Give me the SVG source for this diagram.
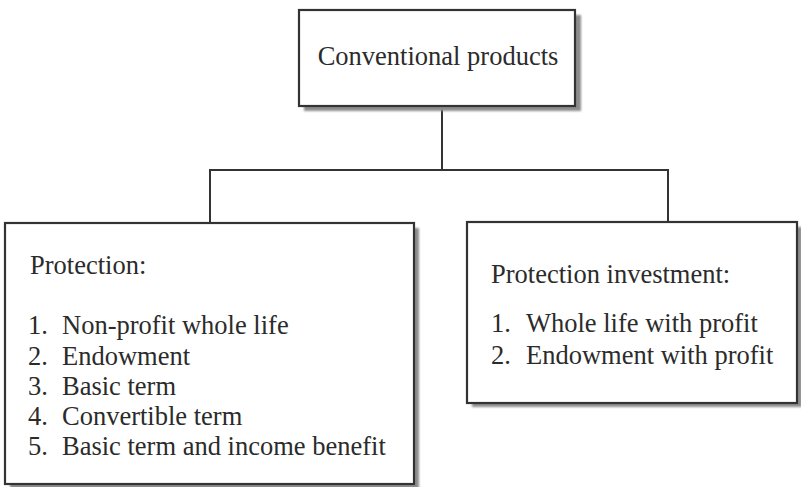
<svg xmlns="http://www.w3.org/2000/svg" width="801" height="487" viewBox="0 0 801 487">
  <style>
    .shadow { fill: #8c8c8c; }
    .box { fill: #ffffff; stroke: #333333; stroke-width: 2.2; }
    .link { fill: none; stroke: #333333; stroke-width: 2; }
    text { font-family: "Liberation Serif", "Times New Roman", serif; fill: #2b2b2b; font-size: 26.5px; }
  </style>
  <defs>
    <filter id="soft" x="-5%" y="-5%" width="110%" height="110%">
      <feGaussianBlur stdDeviation="0.8"/>
    </filter>
  </defs>
  <rect width="801" height="487" fill="#ffffff"/>

  <!-- connectors -->
  <g id="connectors">
    <path class="link" d="M442 106 V170 M210 170 H668 M210 169 V223 M668 169 V222"/>
  </g>

  <!-- root node -->
  <g id="node-conventional">
    <rect class="shadow" x="304" y="15" width="277" height="96" filter="url(#soft)"/>
    <rect class="box" x="299" y="10" width="276" height="96"/>
    <text x="438" y="65" text-anchor="middle">Conventional products</text>
  </g>

  <!-- protection products -->
  <g id="node-protection">
    <rect class="shadow" x="10" y="228" width="409" height="262" filter="url(#soft)"/>
    <rect class="box" x="5" y="223" width="409" height="261"/>
    <text x="30" y="274">Protection:</text>
    <text x="28" y="334">1.</text><text x="62" y="334">Non-profit whole life</text>
    <text x="28" y="365">2.</text><text x="62" y="365">Endowment</text>
    <text x="28" y="395">3.</text><text x="62" y="395">Basic term</text>
    <text x="28" y="425">4.</text><text x="62" y="425">Convertible term</text>
    <text x="28" y="455">5.</text><text x="62" y="455">Basic term and income benefit</text>
  </g>

  <!-- protection investment products -->
  <g id="node-investment">
    <rect class="shadow" x="472" y="227" width="330" height="180" filter="url(#soft)"/>
    <rect class="box" x="467" y="222" width="330" height="181"/>
    <text x="491" y="283">Protection investment:</text>
    <text x="491" y="332">1.</text><text x="526" y="332">Whole life with profit</text>
    <text x="491" y="364">2.</text><text x="526" y="364">Endowment with profit</text>
  </g>
</svg>
